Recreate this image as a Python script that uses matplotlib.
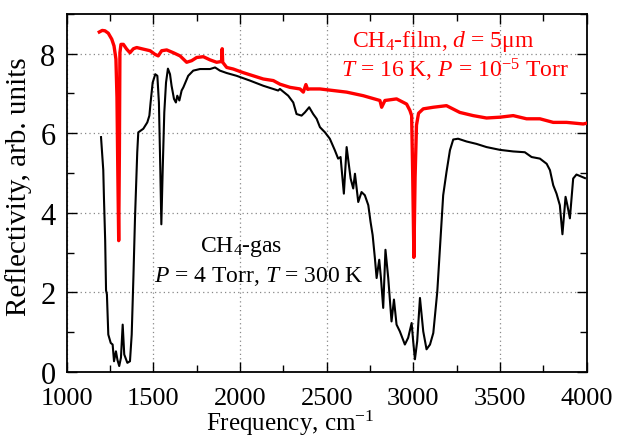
import matplotlib
matplotlib.use("Agg")
import matplotlib.pyplot as plt
from matplotlib.ticker import MultipleLocator

plt.rcParams['font.family'] = ['Liberation Serif', 'DejaVu Serif']
plt.rcParams['mathtext.fontset'] = 'custom'
plt.rcParams['mathtext.rm'] = 'Liberation Serif'
plt.rcParams['mathtext.it'] = 'Liberation Serif:italic'

# CH4 gas (black)
gas_freq = [1198, 1211, 1215, 1222, 1227, 1232, 1240, 1254, 1265, 1273, 1284, 1293, 1303, 1313,
            1323, 1332, 1350, 1365, 1375, 1385, 1394, 1407, 1413, 1442, 1465, 1477, 1484, 1496,
            1511, 1523, 1532, 1540, 1546, 1554, 1563, 1573, 1584, 1596, 1605, 1619, 1630, 1638,
            1650, 1663, 1673, 1701, 1730, 1769, 1827, 1856, 1884, 1923, 1980, 2057, 2134, 2192,
            2220, 2230, 2278, 2307, 2326, 2355, 2374, 2399, 2422, 2442, 2461, 2490, 2518, 2547,
            2566, 2580, 2599, 2615, 2638, 2653, 2663, 2682, 2701, 2720, 2740, 2753, 2765, 2778,
            2788, 2803, 2813, 2826, 2839, 2855, 2874, 2888, 2903, 2922, 2951, 2970, 2990, 2999,
            3009, 3022, 3038, 3057, 3076, 3096, 3115, 3138, 3157, 3172, 3191, 3211, 3230, 3258,
            3307, 3364, 3422, 3499, 3576, 3643, 3682, 3730, 3769, 3788, 3807, 3826, 3845, 3860,
            3878, 3888, 3903, 3922, 3941, 3990]
gas_refl = [5.90, 5.07, 4.36, 3.30, 2.05, 1.95, 0.94, 0.73, 0.69, 0.27, 0.52, 0.30, 0.15, 0.36,
            1.19, 0.44, 0.23, 0.27, 0.94, 2.40, 3.86, 5.52, 6.02, 6.11, 6.27, 6.44, 6.77, 7.27,
            7.48, 7.44, 6.77, 5.11, 3.71, 5.11, 6.52, 7.27, 7.62, 7.48, 7.19, 6.86, 6.77, 6.94,
            6.82, 7.07, 7.15, 7.44, 7.57, 7.61, 7.61, 7.65, 7.57, 7.51, 7.44, 7.32, 7.19, 7.11,
            7.07, 7.11, 6.94, 6.77, 6.48, 6.44, 6.52, 6.65, 6.48, 6.36, 6.15, 6.02, 5.86, 5.57,
            5.36, 5.40, 4.48, 5.65, 4.86, 4.61, 4.98, 4.27, 4.52, 4.44, 4.19, 3.77, 3.44, 2.86,
            2.36, 2.82, 2.36, 1.61, 3.07, 2.36, 1.27, 1.82, 1.19, 1.02, 0.69, 0.86, 1.23, 0.77,
            0.32, 0.77, 1.86, 1.02, 0.57, 0.69, 0.98, 2.02, 3.36, 4.44, 5.02, 5.57, 5.84, 5.86,
            5.79, 5.73, 5.65, 5.58, 5.54, 5.52, 5.40, 5.36, 5.23, 5.07, 4.69, 4.48, 4.19, 3.46,
            4.40, 4.20, 3.86, 4.86, 4.96, 4.87]

# CH4 film (red)
film_freq = [1188, 1205, 1221, 1240, 1260, 1273, 1284, 1290, 1295, 1300, 1304, 1307, 1313, 1327,
             1346, 1365, 1385, 1404, 1442, 1481, 1509, 1528, 1548, 1577, 1615, 1654, 1692, 1721,
             1750, 1788, 1827, 1865, 1893, 1897, 1900, 1923, 1961, 2018, 2076, 2134, 2192, 2230,
             2288, 2346, 2365, 2380, 2390, 2403, 2461, 2538, 2615, 2711, 2807, 2817, 2836, 2903,
             2961, 2980, 2990, 2996, 3003, 3010, 3018, 3030, 3057, 3115, 3191, 3268, 3345, 3422,
             3499, 3576, 3653, 3730, 3807, 3884, 3980, 4000]
film_refl = [8.54, 8.58, 8.57, 8.51, 8.36, 8.19, 7.86, 6.90, 5.00, 3.30, 5.50, 8.02, 8.23, 8.23,
             8.11, 8.02, 8.12, 8.15, 8.11, 8.07, 7.98, 7.94, 8.07, 8.09, 8.02, 7.94, 7.78, 7.82,
             7.90, 7.92, 7.84, 7.78, 7.80, 8.12, 7.78, 7.65, 7.61, 7.52, 7.44, 7.36, 7.32, 7.23,
             7.15, 7.11, 7.03, 7.22, 7.10, 7.11, 7.11, 7.07, 7.03, 6.94, 6.82, 6.65, 6.82, 6.86,
             6.73, 6.57, 6.44, 5.00, 2.88, 4.90, 6.20, 6.50, 6.61, 6.65, 6.69, 6.52, 6.44, 6.38,
             6.40, 6.44, 6.36, 6.36, 6.27, 6.27, 6.23, 6.25]

x_ticks = [1000, 1500, 2000, 2500, 3000, 3500, 4000]
y_ticks = [0, 2, 4, 6, 8]

fig = plt.figure(figsize=(6.18, 4.39), dpi=100)
ax = fig.add_axes([66.7 / 618, (439 - 373) / 439, 520 / 618, 358.3 / 439])

ax.plot(gas_freq, gas_refl, color='black', lw=1.5, zorder=3)
ax.plot(film_freq, film_refl, color='red', lw=2.4, zorder=4)

ax.set_xlim(1000, 4000)
ax.set_ylim(0, 9)
ax.set_xticks(x_ticks)
ax.set_yticks(y_ticks)
ax.xaxis.set_minor_locator(MultipleLocator(250))
ax.yaxis.set_minor_locator(MultipleLocator(1))
ax.tick_params(which='both', direction='in', top=True, right=True, width=1.0)
ax.tick_params(which='major', length=7)
ax.tick_params(which='minor', length=5)
ax.tick_params(axis='x', which='major', labelsize=19, pad=11)
ax.tick_params(axis='y', which='major', labelsize=22, pad=8)
ax.grid(True, which='major', linestyle=(0, (1, 2.5)), color='#888888', lw=0.9)
for s in ax.spines.values():
    s.set_linewidth(1.3)

ax.set_xlabel('Frequency, cm$^{-1}$', fontsize=18)
ax.xaxis.set_label_coords(0.43, -0.101)
ax.set_ylabel('Reflectivity, arb. units', fontsize=21)
ax.yaxis.set_label_coords(-0.066, 0.52)

ax.text(3173, 8.18, r'CH$_4$-film, $d$ = 5μm', color='red', fontsize=17, ha='center', va='baseline')
ax.text(3240, 7.43, r'$T$ = 16 K, $P$ = 10$^{-5}$ Torr', color='red', fontsize=17, ha='center', va='baseline')
ax.text(2006, 3.03, r'CH$_4$-gas', color='black', fontsize=17, ha='center', va='baseline')
ax.text(2106, 2.28, r'$P$ = 4 Torr, $T$ = 300 K', color='black', fontsize=17, ha='center', va='baseline')

fig.savefig('out.png', dpi=100)
